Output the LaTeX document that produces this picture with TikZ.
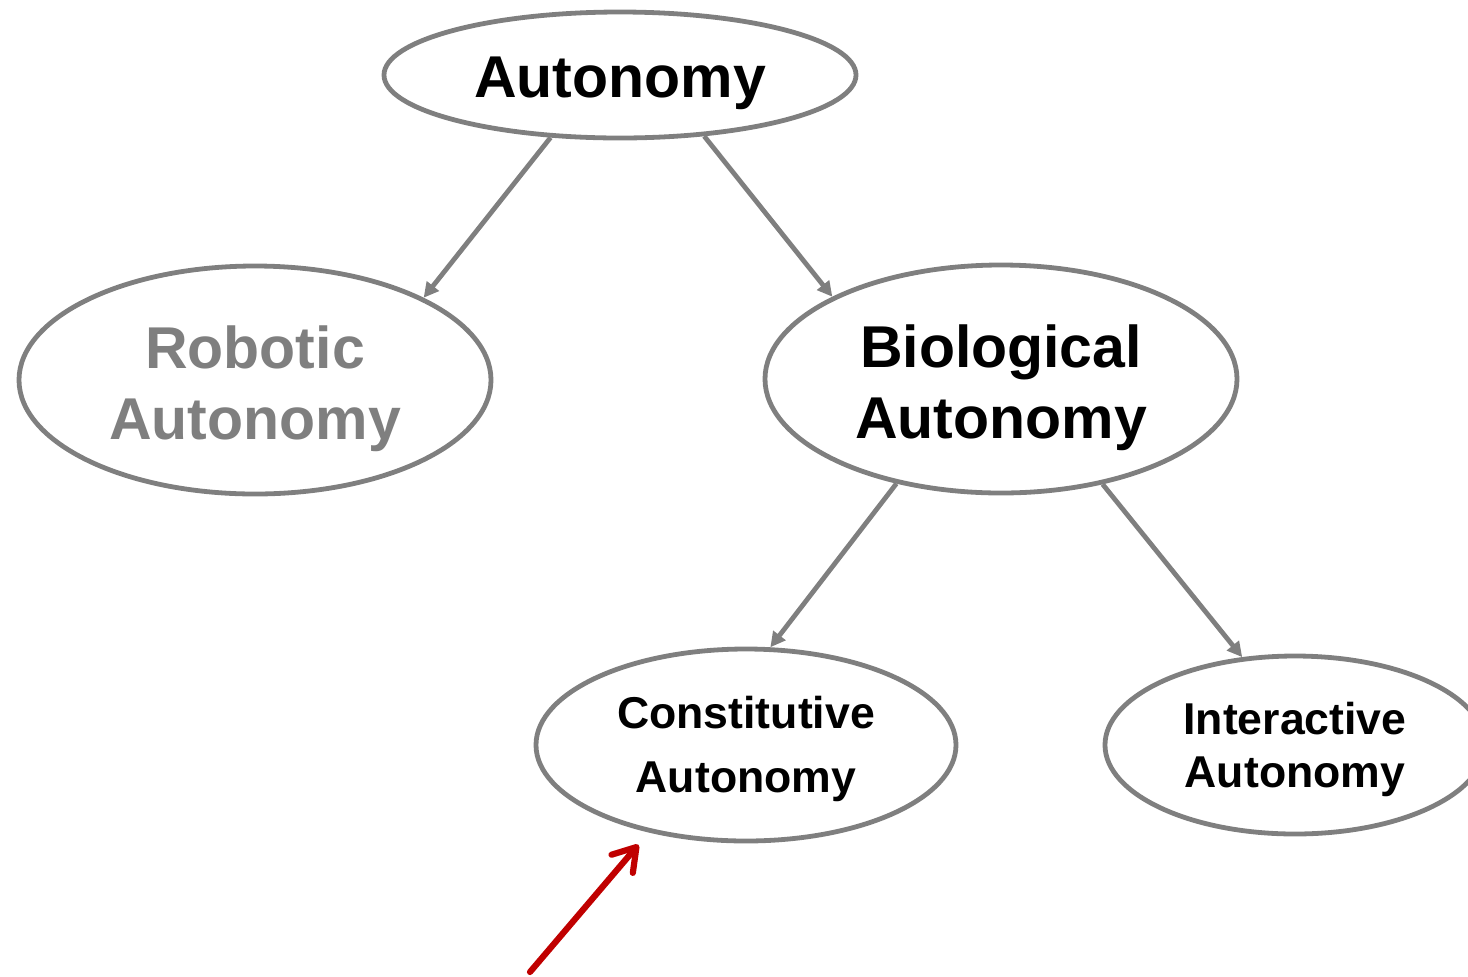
\documentclass[tikz,border=0pt]{standalone}
\usepackage{fontspec}
\setmainfont{Liberation Sans}
\usetikzlibrary{shapes.geometric,arrows.meta}
\definecolor{linegray}{HTML}{7F7F7F}
\definecolor{arrowred}{HTML}{C00000}
\begin{document}
\begin{tikzpicture}[x=0.5pt,y=-0.5pt,
  oval/.style={ellipse, draw=linegray, line width=2.4pt, inner sep=0pt},
  label text/.style={inner sep=0pt, align=center},
  bigtext/.style={font=\fontsize{29.5}{35.5}\selectfont\bfseries},
  midtext/.style={font=\fontsize{22.3}{32}\selectfont\bfseries},
  smalltext/.style={font=\fontsize{22.3}{26.5}\selectfont\bfseries},
  link/.style={draw=linegray, line width=2.4pt,
    -{Triangle[length=7.5pt,width=7.5pt]}},
  pointer/.style={draw=arrowred, line width=3.1pt, line cap=round,
    -{Straight Barb[length=11pt,width=14pt,round]}}]
\clip (0,0) rectangle (1468,976);

% concept hierarchy: outlines
\node[oval, minimum width=236pt, minimum height=63pt] (aut) at (620,75) {};
\node[oval, minimum width=236pt, minimum height=114pt] (rob) at (255,380) {};
\node[oval, minimum width=236pt, minimum height=114pt] (bio) at (1001,379) {};
\node[oval, minimum width=210pt, minimum height=96pt] (con) at (746,745) {};
\node[oval, minimum width=190pt, minimum height=89pt] (int) at (1295,745) {};

% concept names
\node[label text, bigtext] (autT) at ([yshift=-4pt]aut.center) {Autonomy};
\node[label text, bigtext, text=linegray] (robT) at ([yshift=-4.5pt]rob.center) {Robotic\\Autonomy};
\node[label text, bigtext] (bioT) at ([yshift=-4.5pt]bio.center) {Biological\\Autonomy};
\node[label text, midtext] (conT) at ([yshift=-2pt]con.center) {Constitutive\\Autonomy};
\node[label text, smalltext] (intT) at ([yshift=-2pt]int.center) {Interactive\\Autonomy};

% subdivision arrows
\draw[link] (aut.222.8) -- (rob.26.2);
\draw[link] (aut.324.5) -- (bio.154.8);
\draw[link] (bio.225.8) -- (con.76.5);
\draw[link] (bio.314) -- (int.121.5);

% highlight pointer
\coordinate (ptr) at (530,972);
\draw[pointer, shorten >=8pt] (ptr) -- (con.222.8);
\end{tikzpicture}
\end{document}
